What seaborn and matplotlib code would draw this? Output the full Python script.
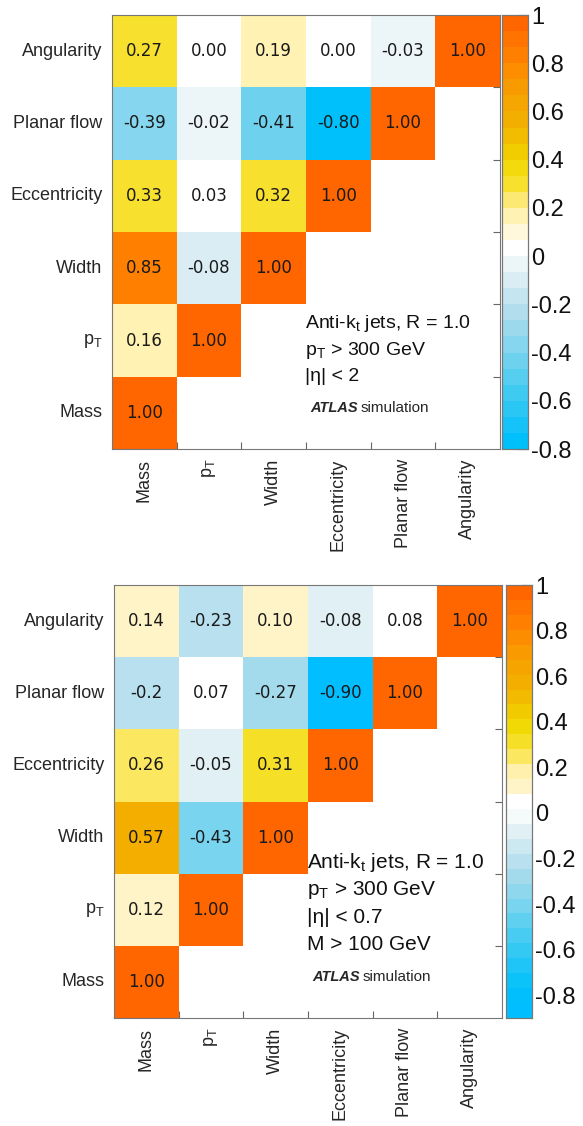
import numpy as np
import pandas as pd
import seaborn as sns
import matplotlib.pyplot as plt
from matplotlib.colors import LinearSegmentedColormap, to_rgb
from matplotlib.ticker import FuncFormatter

sns.set_style('white')
plt.rcParams['font.family'] = ['Liberation Sans', 'DejaVu Sans']
plt.rcParams['mathtext.default'] = 'regular'

rows = ['Angularity', 'Planar flow', 'Eccentricity', 'Width', 'p$_T$', 'Mass']
cols = ['Mass', 'p$_T$', 'Width', 'Eccentricity', 'Planar flow', 'Angularity']
nan = np.nan

# top panel: |eta| < 2
corr_top = [
    [0.27, 0.00, 0.19, 0.00, -0.03, 1.00],
    [-0.39, -0.02, -0.41, -0.80, 1.00, nan],
    [0.33, 0.03, 0.32, 1.00, nan, nan],
    [0.85, -0.08, 1.00, nan, nan, nan],
    [0.16, 1.00, nan, nan, nan, nan],
    [1.00, nan, nan, nan, nan, nan],
]
# bottom panel: |eta| < 0.7, M > 100 GeV
corr_bot = [
    [0.14, -0.23, 0.10, -0.08, 0.08, 1.00],
    [-0.2, 0.07, -0.27, -0.90, 1.00, nan],
    [0.26, -0.05, 0.31, 1.00, nan, nan],
    [0.57, -0.43, 1.00, nan, nan, nan],
    [0.12, 1.00, nan, nan, nan, nan],
    [1.00, nan, nan, nan, nan, nan],
]
label_overrides_bot = {(1, 0): '-0.2'}

cbar_ticks = [-0.8, -0.6, -0.4, -0.2, 0, 0.2, 0.4, 0.6, 0.8, 1]
text_top = ['Anti-k$_t$ jets, R = 1.0', 'p$_T$ > 300 GeV', '|η| < 2']
text_bot = ['Anti-k$_t$ jets, R = 1.0', 'p$_T$ > 300 GeV', '|η| < 0.7', 'M > 100 GeV']

# colour anchors (value, colour) roughly like the ROOT palette
anchors = [(-0.9, '#00beff'), (-0.8, '#00c0fb'), (-0.6, '#3ccaf2'), (-0.4, '#80d5ee'),
           (-0.25, '#b0ddec'), (-0.1, '#dceef4'), (-0.03, '#eef6f9'), (0.0, '#ffffff'),
           (0.07, '#ffffff'), (0.12, '#fff4c4'), (0.2, '#fff0a8'), (0.28, '#f9e23c'),
           (0.4, '#f0d800'), (0.55, '#f2b400'), (0.7, '#f7a000'), (0.85, '#ff8200'),
           (1.0, '#ff6600')]


def make_cmap(vmin, nlev):
    pts = [(v, c) for v, c in anchors if v >= vmin]
    if pts[0][0] > vmin:
        pts.insert(0, (vmin, pts[0][1]))
    pts = [((v - vmin) / (1 - vmin), to_rgb(c)) for v, c in pts]
    cm = LinearSegmentedColormap.from_list('root', pts)
    return cm.resampled(nlev)


def panel(fig, rect, crect, data, vmin, nlev, lines, ys, overrides, fs, ys_atlas):
    ax = fig.add_axes(rect)
    cax = fig.add_axes(crect)
    df = pd.DataFrame(data, index=rows, columns=cols)
    annot = df.map(lambda v: '' if np.isnan(v) else f'{v:.2f}').values
    for (i, j), s in overrides.items():
        annot[i, j] = s
    sns.heatmap(df, mask=df.isna(), cmap=make_cmap(vmin, nlev), vmin=vmin, vmax=1,
                annot=annot, fmt='', cbar_ax=cax, ax=ax,
                annot_kws={'fontsize': 12, 'color': '#1a1a1a', 'family': 'DejaVu Sans'})
    ax.set_xlabel('')
    ax.set_ylabel('')
    ax.set_yticklabels(rows, rotation=0, fontsize=13)
    ax.set_xticklabels(cols, rotation=90, fontsize=13)
    ax.tick_params(which='major', length=0, pad=7)
    ax.set_xticks(np.arange(1, 6), minor=True)
    ax.set_yticks(np.arange(1, 6), minor=True)
    ax.tick_params(which='minor', direction='in', length=5, width=0.8, color='#666666',
                   top=True, bottom=True, left=True, right=True)
    for s in ax.spines.values():
        s.set_visible(True)
        s.set_color('#777777')
        s.set_linewidth(0.8)
    for t, y in zip(lines, ys):
        ax.text(0.497, y, t, transform=ax.transAxes, fontsize=fs, va='center', color='#111111')
    ax.text(0.51, ys_atlas, 'ATLAS', transform=ax.transAxes, fontsize=10.5,
            fontweight='bold', fontstyle='italic', va='center')
    ax.text(0.64, ys_atlas, 'simulation', transform=ax.transAxes, fontsize=11, va='center')

    cax.set_yticks(cbar_ticks)
    cax.yaxis.set_major_formatter(FuncFormatter(lambda v, p: f'{v:g}'))
    cax.tick_params(direction='in', length=8, width=0.8, labelsize=17, pad=2, colors='#111111')
    cax.yaxis.set_ticks_position('right')
    for s in cax.spines.values():
        s.set_visible(True)
        s.set_color('#777777')
        s.set_linewidth(0.8)
    return ax


W, H = 583, 1126
fig = plt.figure(figsize=(W / 100, H / 100), dpi=100)

panel(fig, [112 / W, 1 - 449 / H, 388 / W, 434 / H], [502 / W, 1 - 449 / H, 26 / W, 434 / H],
      corr_top, -0.8, 27, text_top, [0.29, 0.228, 0.168], {}, 14, 0.094)
panel(fig, [114 / W, 1 - 1018 / H, 388 / W, 433 / H], [506 / W, 1 - 1018 / H, 26 / W, 433 / H],
      corr_bot, -0.9, 29, text_bot, [0.36, 0.296, 0.233, 0.169], label_overrides_bot, 15, 0.095)

plt.savefig('out.png', dpi=100)
